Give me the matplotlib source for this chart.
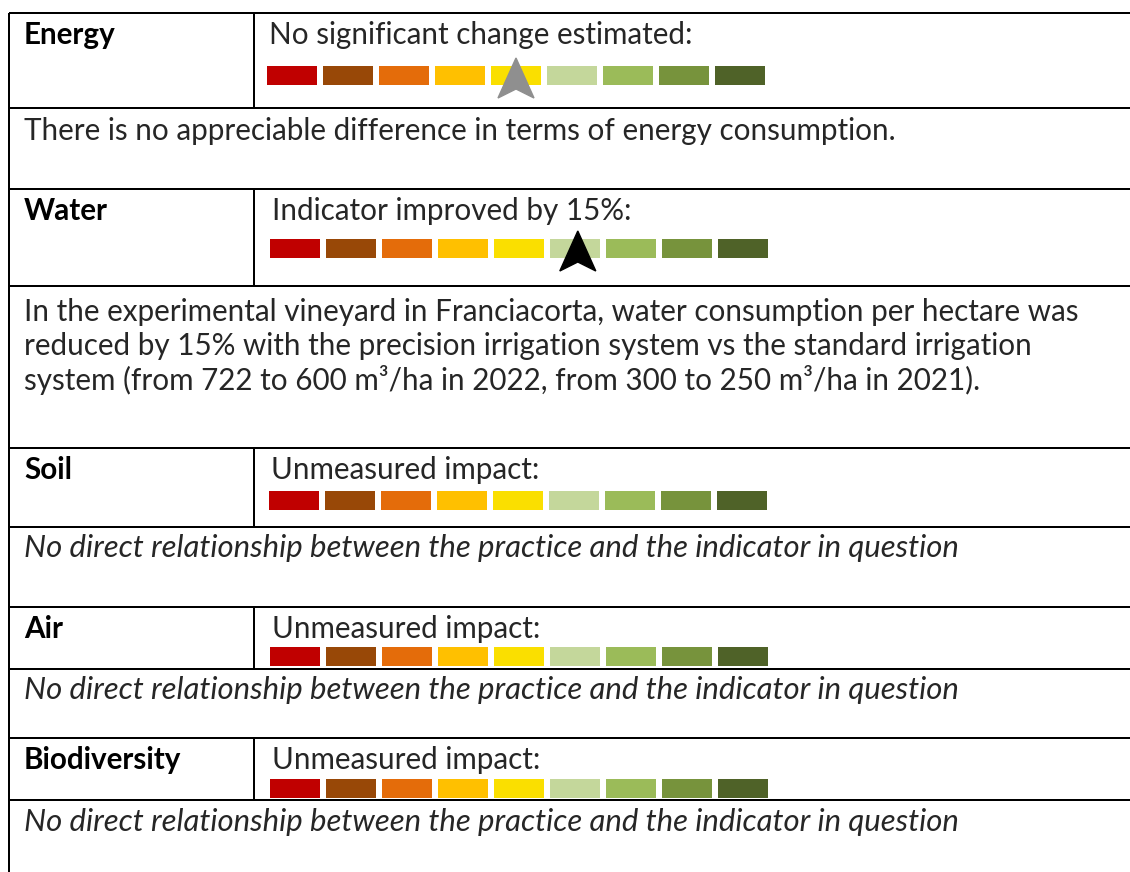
import matplotlib
matplotlib.use("Agg")
import matplotlib.pyplot as plt
from matplotlib.patches import Polygon

# данные таблицы
indicators = ["Energy", "Water", "Soil", "Air", "Biodiversity"]
verdicts = ["No significant change estimated:",
            "Indicator improved by 15%:",
            "Unmeasured impact:",
            "Unmeasured impact:",
            "Unmeasured impact:"]
descriptions = [
    ["There is no appreciable difference in terms of energy consumption."],
    ["In the experimental vineyard in Franciacorta, water consumption per hectare was",
     "reduced by 15% with the precision irrigation system vs the standard irrigation",
     "system (from 722 to 600 m³/ha in 2022, from 300 to 250 m³/ha in 2021)."],
    ["No direct relationship between the practice and the indicator in question"],
    ["No direct relationship between the practice and the indicator in question"],
    ["No direct relationship between the practice and the indicator in question"],
]
desc_italic = [False, False, True, True, True]
scale_colors = ["#C00000", "#984807", "#E46C0A", "#FFC000", "#FADF00",
                "#C4D79B", "#9BBB59", "#77933C", "#4F6228"]
# позиция стрелки на шкале (индекс ячейки), None - нет стрелки
arrow_pos = [4, 5.05, None, None, None]
arrow_colors = ["#8F8F8F", "#000000", None, None, None]

# раскладка в пикселях
W, H = 1130, 872
row_top = [13, 189, 448, 607, 738]
row_bot = [108, 286, 527, 669, 800]
bar_top = [66, 239, 491, 647, 779]
desc_y0 = [131, 312, 548, 690, 822]
x_left, x_div = 9, 254
bar_x0 = [267, 270, 269, 270, 270]
bar_step, bar_w, bar_h = 56, 50, 19
lw = 2 * 72 / 100

plt.rcParams['font.family'] = ['Lato', 'DejaVu Sans']
fig = plt.figure(figsize=(W / 100, H / 100), dpi=100)
ax = fig.add_axes([0, 0, 1, 1])
ax.set_xlim(0, W)
ax.set_ylim(H, 0)
ax.axis("off")

fs = 21.3
fs_it = 22.4
txt_col = "#262626"
for i, name in enumerate(indicators):
    top, bot = row_top[i], row_bot[i]
    ax.plot([x_left, W], [top, top], color="black", lw=lw, solid_capstyle="butt")
    ax.plot([x_left, W], [bot, bot], color="black", lw=lw, solid_capstyle="butt")
    ax.plot([x_div, x_div], [top, bot], color="black", lw=lw, solid_capstyle="butt")
    ax.text(24, top + 22, name, fontsize=fs, fontweight="bold", color="black", va="center")
    ax.text(bar_x0[i] + 2, top + 22, verdicts[i], fontsize=fs, color=txt_col, va="center")
    # шкала
    xs = [bar_x0[i] + k * bar_step for k in range(len(scale_colors))]
    ax.bar(xs, [bar_h] * len(xs), width=bar_w, bottom=bar_top[i],
           align="edge", color=scale_colors, linewidth=0)
    if arrow_pos[i] is not None:
        cx = bar_x0[i] + arrow_pos[i] * bar_step + bar_w / 2
        ytop = bar_top[i] - 8
        yb = bar_top[i] + 32
        ax.add_patch(Polygon([[cx, ytop], [cx + 18, yb], [cx, yb - 9], [cx - 18, yb]],
                             closed=True, color=arrow_colors[i], zorder=5))
    # описание
    for j, line in enumerate(descriptions[i]):
        ax.text(24, desc_y0[i] + j * 34, line, color=txt_col, va="center",
                fontsize=fs_it if desc_italic[i] else fs,
                style="italic" if desc_italic[i] else "normal")

ax.plot([x_left, x_left], [row_top[0], H], color="black", lw=lw, solid_capstyle="butt")

fig.savefig("out.png", dpi=100)
